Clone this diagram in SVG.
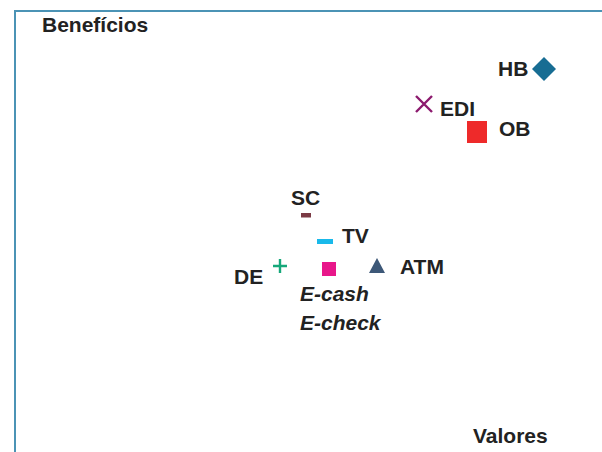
<svg xmlns="http://www.w3.org/2000/svg" width="602" height="452" viewBox="0 0 602 452">
<style>
text{font-family:"Liberation Sans",Arial,sans-serif;font-weight:bold;font-size:21px;fill:#222}
.it{font-style:italic}
</style>
<rect width="602" height="452" fill="#fff"/>
<g id="axes" fill="none" stroke="#4b93b5" stroke-width="2">
<path d="M15 452 V11 H602"/>
</g>
<text x="42" y="32">Benefícios</text>
<text x="473" y="443">Valores</text>
<g id="HB"><path d="M544 57 L556 69 L544 81 L532 69 Z" fill="#176d93"/><text x="498" y="76">HB</text></g>
<g id="EDI"><path d="M416 96 L432 112 M432 96 L416 112" stroke="#8c1a6e" stroke-width="2.4"/><text x="440" y="116">EDI</text></g>
<g id="OB"><rect x="467" y="121" width="20" height="22" fill="#ee2a2a"/><text x="499" y="136">OB</text></g>
<g id="SC"><rect x="301" y="213" width="10" height="4.5" fill="#7b3a45"/><text x="291" y="205">SC</text></g>
<g id="TV"><rect x="317" y="239" width="16" height="5" fill="#19b9ea"/><text x="342" y="243">TV</text></g>
<g id="DE"><path d="M280 259 V273 M273 266 H287" stroke="#16a87a" stroke-width="2.4"/><text x="234" y="284">DE</text></g>
<g id="Ecash"><rect x="322" y="262" width="14" height="14" fill="#e8178a"/><text class="it" x="300" y="301">E-cash</text><text class="it" x="300" y="330">E-check</text></g>
<g id="ATM"><path d="M377 258 L385 273 L369 273 Z" fill="#3d5878"/><text x="400" y="274">ATM</text></g>
<g id="connectors"></g>
</svg>
